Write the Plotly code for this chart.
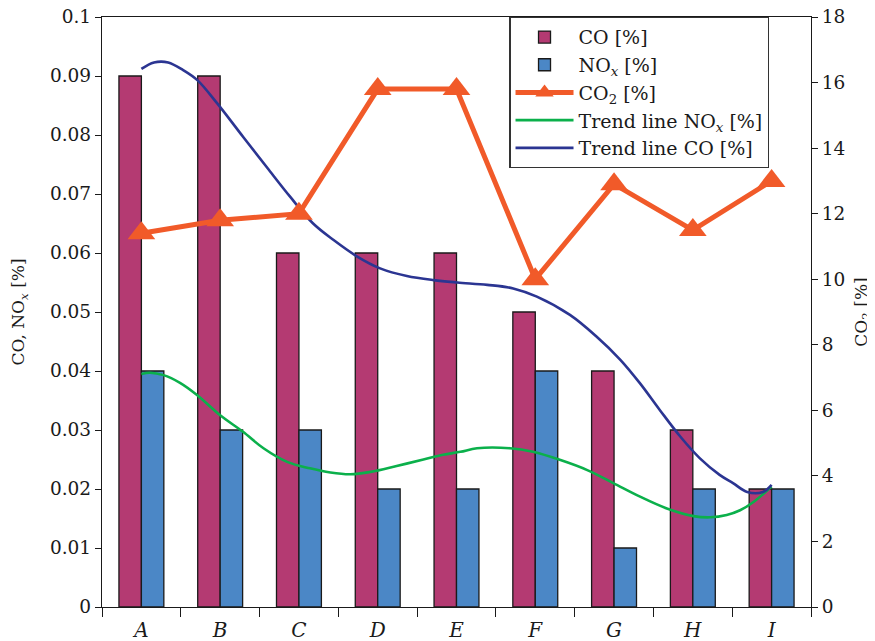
import plotly.graph_objects as go

categories = ["A", "B", "C", "D", "E", "F", "G", "H", "I"]
co_values = [0.09, 0.09, 0.06, 0.06, 0.06, 0.05, 0.04, 0.03, 0.02]
nox_values = [0.04, 0.03, 0.03, 0.02, 0.02, 0.04, 0.01, 0.02, 0.02]
co2_values = [11.4, 11.8, 12.0, 15.8, 15.8, 10.0, 12.9, 11.5, 13.0]

# Trend lines (position in category units, value on left axis)
trend_co_x = [0.0, 0.16, 0.34, 0.53, 0.71, 0.96, 1.29, 1.60, 1.89, 2.18, 2.44, 2.74, 3.03,
              3.37, 3.71, 4.01, 4.39, 4.72, 5.02, 5.44, 5.78, 6.08, 6.33, 6.58, 6.84,
              7.09, 7.34, 7.51, 7.69, 7.89, 8.0]
trend_co_y = [0.0912, 0.0923, 0.0923, 0.0910, 0.0893, 0.0854, 0.0797, 0.0744, 0.0695,
              0.0650, 0.0622, 0.0594, 0.0574, 0.0561, 0.0554, 0.0550, 0.0546, 0.0540,
              0.0526, 0.0495, 0.0458, 0.0419, 0.0379, 0.0334, 0.0289, 0.0252, 0.0224,
              0.0210, 0.0195, 0.0195, 0.0207]
trend_nox_x = [0.0, 0.11, 0.28, 0.49, 0.71, 1.0, 1.29, 1.55, 1.85, 2.14, 2.40, 2.65, 2.91,
               3.24, 3.58, 3.83, 4.05, 4.26, 4.68, 4.97, 5.32, 5.66, 5.99, 6.33, 6.67,
               7.01, 7.22, 7.43, 7.60, 7.77, 8.0]
trend_nox_y = [0.0395, 0.0397, 0.0393, 0.0380, 0.0359, 0.0325, 0.0297, 0.0269, 0.0246,
               0.0235, 0.0228, 0.0225, 0.0229, 0.0239, 0.0250, 0.0258, 0.0263, 0.0269,
               0.0269, 0.0263, 0.0249, 0.0232, 0.0210, 0.0187, 0.0167, 0.0154, 0.0152,
               0.0156, 0.0164, 0.0178, 0.0204]

y_ticks = [0, 0.01, 0.02, 0.03, 0.04, 0.05, 0.06, 0.07, 0.08, 0.09, 0.1]
y_ticktext = ["0", "0.01", "0.02", "0.03", "0.04", "0.05", "0.06", "0.07", "0.08", "0.09", "0.1"]

xpos = list(range(len(categories)))
FONT = "DejaVu Serif"

fig = go.Figure()
fig.add_trace(go.Bar(x=xpos, y=co_values, name="CO [%]",
                     marker=dict(color="#B43A72", line=dict(color="#1a1a1a", width=1.3))))
fig.add_trace(go.Bar(x=xpos, y=nox_values, name="NO<sub><i>x</i></sub> [%]",
                     marker=dict(color="#4B87C6", line=dict(color="#1a1a1a", width=1.3))))
fig.add_trace(go.Scatter(x=xpos, y=co2_values, name="CO<sub>2</sub> [%]", yaxis="y2",
                         mode="lines+markers",
                         line=dict(color="#F15A29", width=5),
                         marker=dict(symbol="triangle-up", size=24, color="#F15A29")))
fig.add_trace(go.Scatter(x=trend_nox_x, y=trend_nox_y, name="Trend line NO<sub><i>x</i></sub> [%]",
                         mode="lines", line=dict(color="#0BB04B", width=2.6, shape="spline")))
fig.add_trace(go.Scatter(x=trend_co_x, y=trend_co_y, name="Trend line CO [%]",
                         mode="lines", line=dict(color="#2B3592", width=2.6, shape="spline")))

fig.update_layout(
    width=867, height=633,
    margin=dict(l=94, r=64, t=9, b=34, autoexpand=False),
    paper_bgcolor="white", plot_bgcolor="white",
    font=dict(family=FONT, size=18, color="#1a1a1a"),
    barmode="group", bargap=0.43, bargroupgap=0,
    showlegend=True,
    legend=dict(x=0.5745, y=1.0, xanchor="left", yanchor="top",
                bgcolor="white", bordercolor="#333", borderwidth=1.2,
                font=dict(family=FONT, size=19), tracegroupgap=0, itemwidth=58,
                traceorder="normal"),
    xaxis=dict(range=[-0.5, 8.5], tickvals=xpos,
               ticktext=["<i>%s</i>" % c for c in categories],
               ticks="outside", ticklen=0, showline=True, linecolor="#1a1a1a",
               linewidth=1.3, mirror=True, showgrid=False, zeroline=False,
               automargin=False, ticklabelstandoff=5,
               tickfont=dict(family=FONT, size=20),
               minor=dict(ticks="outside", tick0=-0.5, dtick=1, ticklen=9,
                          tickcolor="#1a1a1a", showgrid=False)),
    yaxis=dict(range=[0, 0.1], tickvals=y_ticks, ticktext=y_ticktext,
               ticks="outside", ticklen=6, tickcolor="#1a1a1a",
               showline=True, linecolor="#1a1a1a", linewidth=1.3,
               showgrid=False, zeroline=False, automargin=False,
               ticklabeloverflow="allow",
               tickfont=dict(family=FONT, size=18.5),
               title=dict(text="CO, NO<sub><i>x</i></sub> [%]", standoff=20,
                          font=dict(family=FONT, size=17))),
    yaxis2=dict(range=[0, 18], dtick=2, overlaying="y", side="right",
                ticks="outside", ticklen=6, tickcolor="#1a1a1a",
                showline=True, linecolor="#1a1a1a", linewidth=1.3,
                showgrid=False, zeroline=False, automargin=False,
                ticklabeloverflow="allow",
                tickfont=dict(family=FONT, size=18.5),
                title=dict(text="CO<sub>2</sub> [%]", standoff=10,
                           font=dict(family=FONT, size=17))),
    yaxis3=dict(range=[0, 0.1], tickvals=y_ticks, overlaying="y", side="left",
                ticks="inside", ticklen=5, tickcolor="#1a1a1a", showticklabels=False,
                showline=False, showgrid=False, zeroline=False, automargin=False),
    yaxis4=dict(range=[0, 18], dtick=2, overlaying="y", side="right",
                ticks="inside", ticklen=5, tickcolor="#1a1a1a", showticklabels=False,
                showline=False, showgrid=False, zeroline=False, automargin=False),
)

fig.write_html("out.html")
